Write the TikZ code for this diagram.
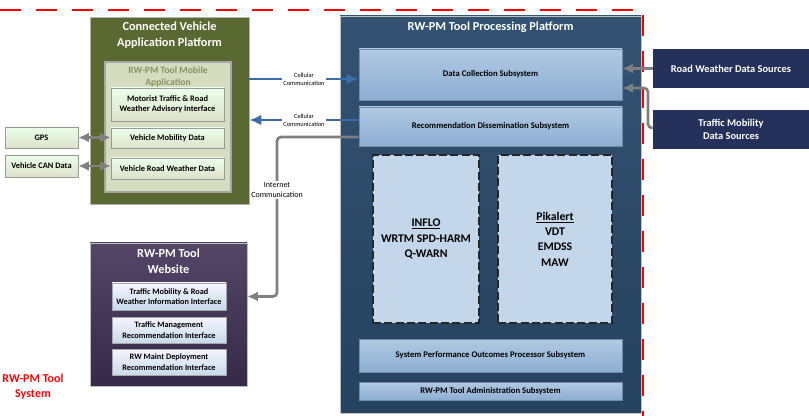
\documentclass[tikz,border=0pt]{standalone}
\usepackage{fontspec}
\setmainfont{Carlito}
\usepackage{tikz}
\usetikzlibrary{arrows.meta}
\usetikzlibrary{positioning}
\usetikzlibrary{calc}
\usetikzlibrary{shadows}
\definecolor{cvgreen}{RGB}{90,104,50}
\definecolor{mobfill}{RGB}{214,220,192}
\definecolor{mobtitle}{RGB}{135,146,95}
\definecolor{procblue}{RGB}{41,73,106}
\definecolor{subtop}{RGB}{176,201,227}
\definecolor{subbot}{RGB}{141,174,210}
\definecolor{dashfill}{RGB}{196,214,234}
\definecolor{srcnavy}{RGB}{37,49,90}
\definecolor{webpurple}{RGB}{64,49,85}
\definecolor{linkblue}{RGB}{59,110,168}
\definecolor{linkgray}{RGB}{127,127,127}
\def\pxu{0.75pt}
\tikzset{box/.style = {draw, rectangle, inner sep=1pt, align=center, font=\bfseries},
         greenbox/.style = {box, draw=gray!80, top color=green!8!white, bottom color=mobfill!85!white,
                            text=black, font=\bfseries\fontsize{6.3}{7.8}\selectfont},
         subbox/.style = {box, draw=subbot!80!black, top color=subtop, bottom color=subbot,
                          font=\bfseries\fontsize{6.5}{7.8}\selectfont,
                          drop shadow={shadow xshift=0.8pt, shadow yshift=-0.8pt, opacity=0.35}},
         webbox/.style = {box, draw=gray!70, top color=blue!4!white, bottom color=subtop!70!white,
                          font=\bfseries\fontsize{6.2}{7.8}\selectfont},
         srcbox/.style = {box, draw=none, fill=srcnavy, text=white, font=\bfseries\fontsize{7.8}{10}\selectfont},
         algbox/.style = {box, draw=black!85, line width=1.2pt, dash pattern=on 6pt off 2.5pt,
                          fill=dashfill, font=\bfseries\fontsize{8.8}{11.5}\selectfont},
         title/.style = {align=center, text=white, font=\bfseries\fontsize{9.2}{12}\selectfont},
         commlabel/.style = {fill=white, align=center, inner sep=1pt, font=\fontsize{4.8}{6}\selectfont},
         bluelink/.style = {draw=linkblue, line width=2pt, >={Latex[length=9pt, width=8pt]}},
         graylink/.style = {draw=linkgray, line width=2pt, >={Latex[length=8pt, width=7.5pt]}, rounded corners=3pt}}

\begin{document}
\begin{tikzpicture}[x=0.75pt, y=-0.75pt]
    \useasboundingbox (0, 0) rectangle (809, 416);

    % connected vehicle side
    \node [box, draw=gray!60, fill=cvgreen, minimum width=159*\pxu, minimum height=187*\pxu] (cvp) at (169.5, 110.5) {};
    \node [title] (cvptitle) at (169.5, 35) {Connected Vehicle\\Application Platform};
    \node [box, draw=gray!70, line width=0.8pt, fill=mobfill, minimum width=126*\pxu, minimum height=130*\pxu] (mobapp) at (168, 127) {};
    \node [align=center, text=mobtitle, font=\bfseries\fontsize{7.2}{9}\selectfont] (mobtitle) at (168, 77) {RW-PM Tool Mobile\\Application};
    \node [greenbox, minimum width=113*\pxu, minimum height=33*\pxu] (advisory) at (167.5, 104.5) {Motorist Traffic \& Road\\Weather Advisory Interface};
    \node [greenbox, minimum width=113*\pxu, minimum height=20*\pxu] (mobdata) at (167.5, 138) {Vehicle Mobility Data};
    \node [greenbox, minimum width=113*\pxu, minimum height=21*\pxu] (rwdata) at (167.5, 168.5) {Vehicle Road Weather Data};
    \node [greenbox, fill=mobfill, minimum width=73*\pxu, minimum height=21*\pxu] (gps) at (41.5, 137.5) {GPS};
    \node [greenbox, minimum width=73*\pxu, minimum height=22*\pxu] (can) at (41.5, 166) {Vehicle CAN Data};

    \draw [graylink, <->] (gps) -- (gps -| mobdata.west);
    \draw [graylink, <->] (can) -- (can -| rwdata.west);

    % processing platform
    \node [box, draw=gray!50, top color=procblue!95!white, bottom color=procblue!90!black, minimum width=301*\pxu, minimum height=397*\pxu] (proc) at (490.5, 214.5) {};
    \node [title] (proctitle) at (490.5, 27) {RW-PM Tool Processing Platform};
    \node [subbox, minimum width=263*\pxu, minimum height=51*\pxu] (collect) at (490.5, 74.5) {Data Collection Subsystem};
    \node [subbox, minimum width=263*\pxu, minimum height=39*\pxu] (dissem) at (490.5, 126.5) {Recommendation Dissemination Subsystem};
    \node [algbox, minimum width=106*\pxu, minimum height=168*\pxu] (inflo) at (426, 239) {\underline{INFLO}\\WRTM SPD-HARM\\Q-WARN};
    \node [algbox, minimum width=114*\pxu, minimum height=168*\pxu] (pikalert) at (555, 239) {\underline{Pikalert}\\VDT\\EMDSS\\MAW};
    \node [subbox, minimum width=263*\pxu, minimum height=33*\pxu] (outcomes) at (490.5, 355.5) {System Performance Outcomes Processor Subsystem};
    \node [subbox, minimum width=263*\pxu, minimum height=18*\pxu] (admin) at (490.5, 391) {RW-PM Tool Administration Subsystem};

    % system boundary
    \draw [red, line width=1.4pt, dash pattern=on 16pt off 11pt] (0, 10) -- (643, 10) -- (643, 416);
    \node [text=red, align=center, font=\bfseries\fontsize{9}{11.5}\selectfont] (sysname) at (33, 387) {RW-PM Tool\\System};

    % data sources
    \node [srcbox, minimum width=156*\pxu, minimum height=39*\pxu] (rwsrc) at (731, 68.5) {Road Weather Data Sources};
    \node [srcbox, minimum width=156*\pxu, minimum height=39*\pxu] (tmsrc) at (731, 129.5) {Traffic Mobility\\Data Sources};
    \coordinate (tmbend) at (648, 88);

    \draw [graylink, ->] (rwsrc.west) -- (rwsrc.west -| collect.east);
    \draw [graylink, ->] (tmsrc.west |- 0, 128) -| (tmbend) -- (tmbend -| collect.east);

    % website
    \node [box, draw=gray!50, top color=webpurple!90!white, bottom color=webpurple!85!black, minimum width=157*\pxu, minimum height=143*\pxu] (web) at (168.5, 314.5) {};
    \node [title] (webtitle) at (168.5, 261.5) {RW-PM Tool\\Website};
    \node [webbox, minimum width=114*\pxu, minimum height=27*\pxu] (webinfo) at (169, 296.5) {Traffic Mobility \& Road\\Weather Information Interface};
    \node [webbox, minimum width=114*\pxu, minimum height=26*\pxu] (webmgmt) at (169, 330) {Traffic Management\\Recommendation Interface};
    \node [webbox, minimum width=114*\pxu, minimum height=26*\pxu] (webmaint) at (169, 362) {RW Maint Deployment\\Recommendation Interface};

    % communication links
    \draw [bluelink, ->] (cvp.east |- 0, 79) -- node [commlabel] {Cellular\\Communication} (collect.west |- 0, 79);
    \draw [bluelink, ->] (dissem.west |- 0, 120) -- node [commlabel] {Cellular\\Communication} (cvp.east |- 0, 120);
    \coordinate (netbend) at (277, 137);
    \draw [graylink, ->] (dissem.west |- netbend) -- (netbend) |- (web.east |- webinfo);
    \node [commlabel, font=\fontsize{6}{7.5}\selectfont] (netlabel) at (277, 190) {Internet\\Communication};
\end{tikzpicture}
\end{document}
